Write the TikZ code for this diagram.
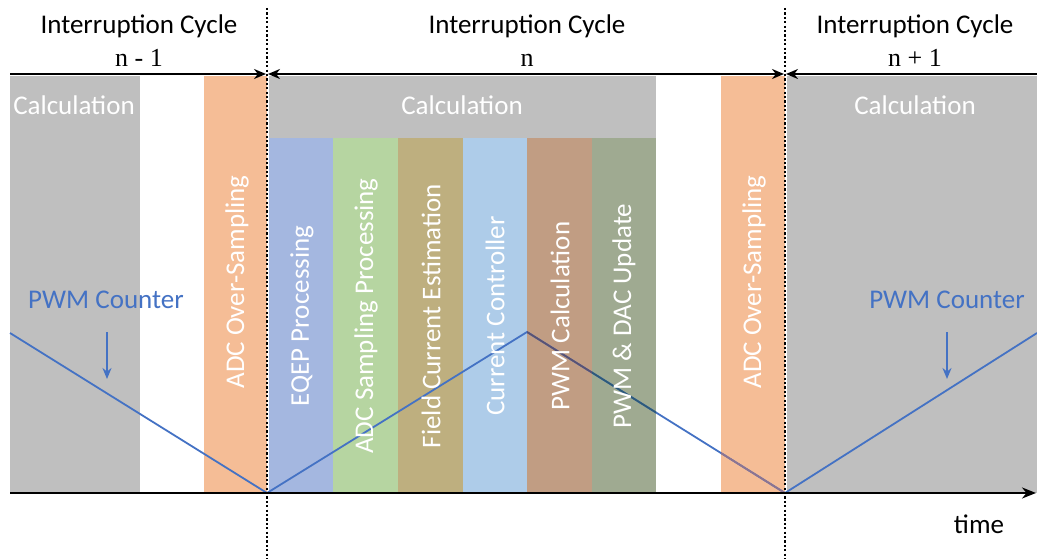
\documentclass[tikz,border=0pt]{standalone}
\usepackage{fontspec}
\setmainfont{Carlito}
\newfontfamily\serifn{Liberation Serif}
\usetikzlibrary{arrows.meta}
\definecolor{calcgray}{HTML}{BFBFBF}
\definecolor{adcorange}{HTML}{F5BD96}
\definecolor{eqepc}{HTML}{A4B7E0}
\definecolor{adcsc}{HTML}{B6D5A1}
\definecolor{fieldc}{HTML}{BEAF7F}
\definecolor{ctrlc}{HTML}{AECCE9}
\definecolor{pwmcc}{HTML}{C19D83}
\definecolor{dacc}{HTML}{9FAA91}
\definecolor{pwmblue}{HTML}{4472C4}
\definecolor{lineoncalc}{HTML}{5A5273}
\definecolor{lineondac}{HTML}{2E5A7A}
\definecolor{lineonadc}{HTML}{8E7490}
\tikzset{
  wlabel/.style={text=white, inner sep=0pt},
  vlabel/.style={text=white, inner sep=0pt, rotate=90, anchor=center},
  hdr/.style={inner sep=0pt, anchor=base},
  cyc/.style={inner sep=0pt, anchor=base, font=\serifn\fontsize{26}{30}\selectfont},
  axis/.style={line width=2.2pt, black},
  marker/.style={line width=1.5pt, dash pattern=on 2.2pt off 2.2pt},
  tip/.style={-{Stealth[length=12pt,width=10pt]}},
  pwm/.style={pwmblue, line width=1.8pt},
}
\begin{document}
\begin{tikzpicture}[x=1pt,y=-1pt,font=\fontsize{27}{32}\selectfont]
\useasboundingbox (0,0) rectangle (1037,559);
% gray calculation blocks
\fill[calcgray] (10,76) rectangle (140,493);
\fill[calcgray] (269,76) rectangle (656,138);
\fill[calcgray] (787,76) rectangle (1037,493);
% task columns
\fill[eqepc] (269,138) rectangle (333,493);
\fill[adcsc] (333,138) rectangle (398,493);
\fill[fieldc] (398,138) rectangle (463,493);
\fill[ctrlc] (463,138) rectangle (527,493);
\fill[pwmcc] (527,138) rectangle (592,493);
\fill[dacc] (592,138) rectangle (656,493);
\fill[adcorange] (204,76) rectangle (267,494);
\fill[adcorange] (721,76) rectangle (785,494);
% PWM counter triangle
\coordinate (p0) at (10,333);
\coordinate (p1) at (267,493);
\coordinate (p2) at (527,332);
\coordinate (p3) at (785,493);
\coordinate (p4) at (1037,333);
\draw[pwm] (p0) -- (p1) -- (p2) -- (p3) -- (p4);
% counter seen through the columns
\begin{scope}
\clip (527,138) rectangle (592,493);
\draw[pwm, lineoncalc] (p2) -- (p3);
\end{scope}
\begin{scope}
\clip (592,138) rectangle (656,493);
\draw[pwm, lineondac] (p2) -- (p3);
\end{scope}
\begin{scope}
\clip (721,76) rectangle (784,494);
\draw[pwm, lineonadc] (p2) -- (p3);
\end{scope}
% axes
\coordinate (a0) at (10,74);
\coordinate (a1) at (266,74);
\coordinate (a2) at (268,74);
\coordinate (a3) at (784,74);
\coordinate (a4) at (786,74);
\coordinate (a5) at (1037,74);
\draw[axis, tip] (a0) -- (a1);
\draw[axis, {Stealth[length=12pt,width=10pt]}-{Stealth[length=12pt,width=10pt]}] (a2) -- (a3);
\draw[axis, {Stealth[length=12pt,width=10pt]}-] (a4) -- (a5);
\coordinate (t0) at (10,493);
\coordinate (t1) at (1036,493);
\draw[axis, -{Stealth[length=14pt,width=11pt]}] (t0) -- (t1);
% cycle boundaries
\coordinate (d0t) at (267,8);
\coordinate (d0b) at (267,559);
\coordinate (d1t) at (785,8);
\coordinate (d1b) at (785,559);
\draw[marker] (d0t) -- (d0b);
\draw[marker] (d1t) -- (d1b);
% headers
\node[hdr] (h1) at (139,34) {Interruption Cycle};
\node[cyc] (c1) at (139,67) {n - 1};
\node[hdr] (h2) at (527,34) {Interruption Cycle};
\node[cyc] (c2) at (527,67) {n};
\node[hdr] (h3) at (915,34) {Interruption Cycle};
\node[cyc] (c3) at (915,67) {n + 1};
% calculation labels
\node[wlabel, anchor=base] (cl1) at (74,115) {Calculation};
\node[wlabel, anchor=base] (cl2) at (462,115) {Calculation};
\node[wlabel, anchor=base] (cl3) at (915,115) {Calculation};
% vertical labels
\node[vlabel] (adc1) at (237,282) {ADC Over-Sampling};
\node[vlabel] (eqep) at (302,316) {EQEP Processing};
\node[vlabel] (adcs) at (366,316) {ADC Sampling Processing};
\node[vlabel] (fce) at (431,316) {Field Current Estimation};
\node[vlabel] (cc) at (495,316) {Current Controller};
\node[vlabel] (pwmc) at (560,316) {PWM Calculation};
\node[vlabel] (pwmd) at (624,316) {PWM \& DAC Update};
\node[vlabel] (adc2) at (754,282) {ADC Over-Sampling};
% PWM counter labels
\node[hdr, text=pwmblue] (pc1) at (106,308) {PWM Counter};
\node[hdr, text=pwmblue] (pc2) at (947,308) {PWM Counter};
\coordinate (pa1) at (107,332);
\coordinate (pb1) at (107,379);
\coordinate (pa2) at (947,332);
\coordinate (pb2) at (947,379);
\draw[pwm, -{Stealth[length=11pt,width=9pt]}] (pa1) -- (pb1);
\draw[pwm, -{Stealth[length=11pt,width=9pt]}] (pa2) -- (pb2);
% time label
\node[hdr] (time) at (979,533) {time};
\end{tikzpicture}
\end{document}
